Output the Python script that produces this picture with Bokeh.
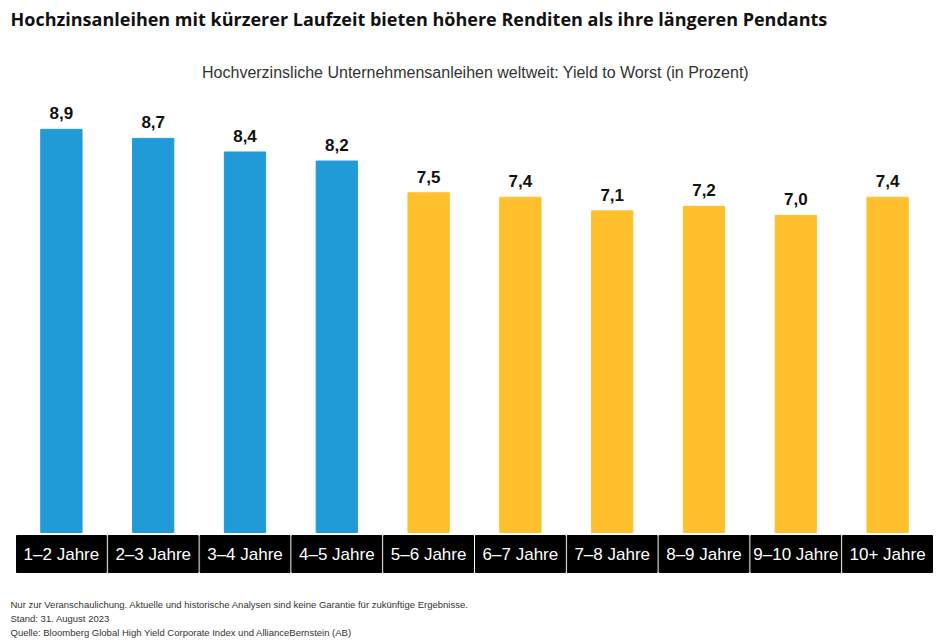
from bokeh.plotting import figure
from bokeh.models import Range1d, Label, ColumnDataSource
from bokeh.embed import file_html
from bokeh.resources import INLINE
from bokeh.core.properties import value

# ---- data ----
categories = ["1–2 Jahre", "2–3 Jahre", "3–4 Jahre", "4–5 Jahre", "5–6 Jahre",
              "6–7 Jahre", "7–8 Jahre", "8–9 Jahre", "9–10 Jahre", "10+ Jahre"]
yields = [8.9, 8.7, 8.4, 8.2, 7.5, 7.4, 7.1, 7.2, 7.0, 7.4]
short_term = [True, True, True, True, False, False, False, False, False, False]

title_text = "Hochzinsanleihen mit kürzerer Laufzeit bieten höhere Renditen als ihre längeren Pendants"
subtitle_text = "Hochverzinsliche Unternehmensanleihen weltweit: Yield to Worst (in Prozent)"
footnotes = [
    "Nur zur Veranschaulichung. Aktuelle und historische Analysen sind keine Garantie für zukünftige Ergebnisse.",
    "Stand: 31. August 2023",
    "Quelle: Bloomberg Global High Yield Corporate Index und AllianceBernstein (AB)",
]

BLUE = "#219bd8"
YELLOW = "#fec02d"

# ---- layout ----
W, H = 940, 642
PX_Y = 45.3          # pixels per percentage point
BASE = 532           # pixel row (from top) of zero line
PX_X = 91.8          # pixels per category
X0 = 15              # pixel column of first category edge

p = figure(width=W, height=H, output_backend="svg", toolbar_location=None,
           x_range=Range1d(-X0 / PX_X, (W - X0) / PX_X),
           y_range=Range1d(-(H - BASE) / PX_Y, BASE / PX_Y),
           min_border=0, min_border_left=0, min_border_right=0,
           min_border_top=0, min_border_bottom=0)
p.axis.visible = False
p.grid.visible = False
p.outline_line_color = None
p.background_fill_color = "white"
p.border_fill_color = "white"

xs = [i + 0.5 for i in range(len(categories))]
src = ColumnDataSource(dict(
    x=xs,
    top=yields,
    color=[BLUE if s else YELLOW for s in short_term],
    cat=categories,
    lab=[f"{v:.1f}".replace(".", ",") for v in yields],
    lab_y=[v + 16 / PX_Y for v in yields],
    box_left=[i + 1 / PX_X for i in range(len(categories))],
    box_right=[i + 1 - 1 / PX_X for i in range(len(categories))],
    cat_y=[-21.5 / PX_Y] * len(categories),
))

p.vbar(x="x", top="top", bottom=0, width=0.45, color="color", source=src)

p.text(x="x", y="lab_y", text="lab", source=src, text_align="center",
       text_baseline="alphabetic", text_font=value("Liberation Sans"),
       text_font_style="bold", text_font_size="17px", text_color="#111111")

p.quad(left="box_left", right="box_right", top=-3 / PX_Y, bottom=-40 / PX_Y,
       color="black", source=src)
p.text(x="x", y="cat_y", text="cat", source=src, text_align="center",
       text_baseline="middle", text_font=value("Liberation Sans"),
       text_font_size="17px", text_color="white")

def page_y(py):
    return H - py

p.add_layout(Label(x=10, y=page_y(18), x_units="screen", y_units="screen",
                   text=title_text, text_font="Open Sans", text_font_style="bold",
                   text_font_size="18px", text_color="#111111",
                   text_baseline="middle"))
p.add_layout(Label(x=475, y=page_y(72), x_units="screen", y_units="screen",
                   text=subtitle_text, text_font="Liberation Sans",
                   text_font_size="16px", text_color="#333333",
                   text_align="center", text_baseline="middle"))
for txt, py in zip(footnotes, [604, 618, 632]):
    p.add_layout(Label(x=10, y=page_y(py), x_units="screen", y_units="screen",
                       text=txt, text_font="Liberation Sans",
                       text_font_size="9.5px", text_color="#333333",
                       text_baseline="middle"))

open("out.html", "w").write(file_html(p, INLINE))
